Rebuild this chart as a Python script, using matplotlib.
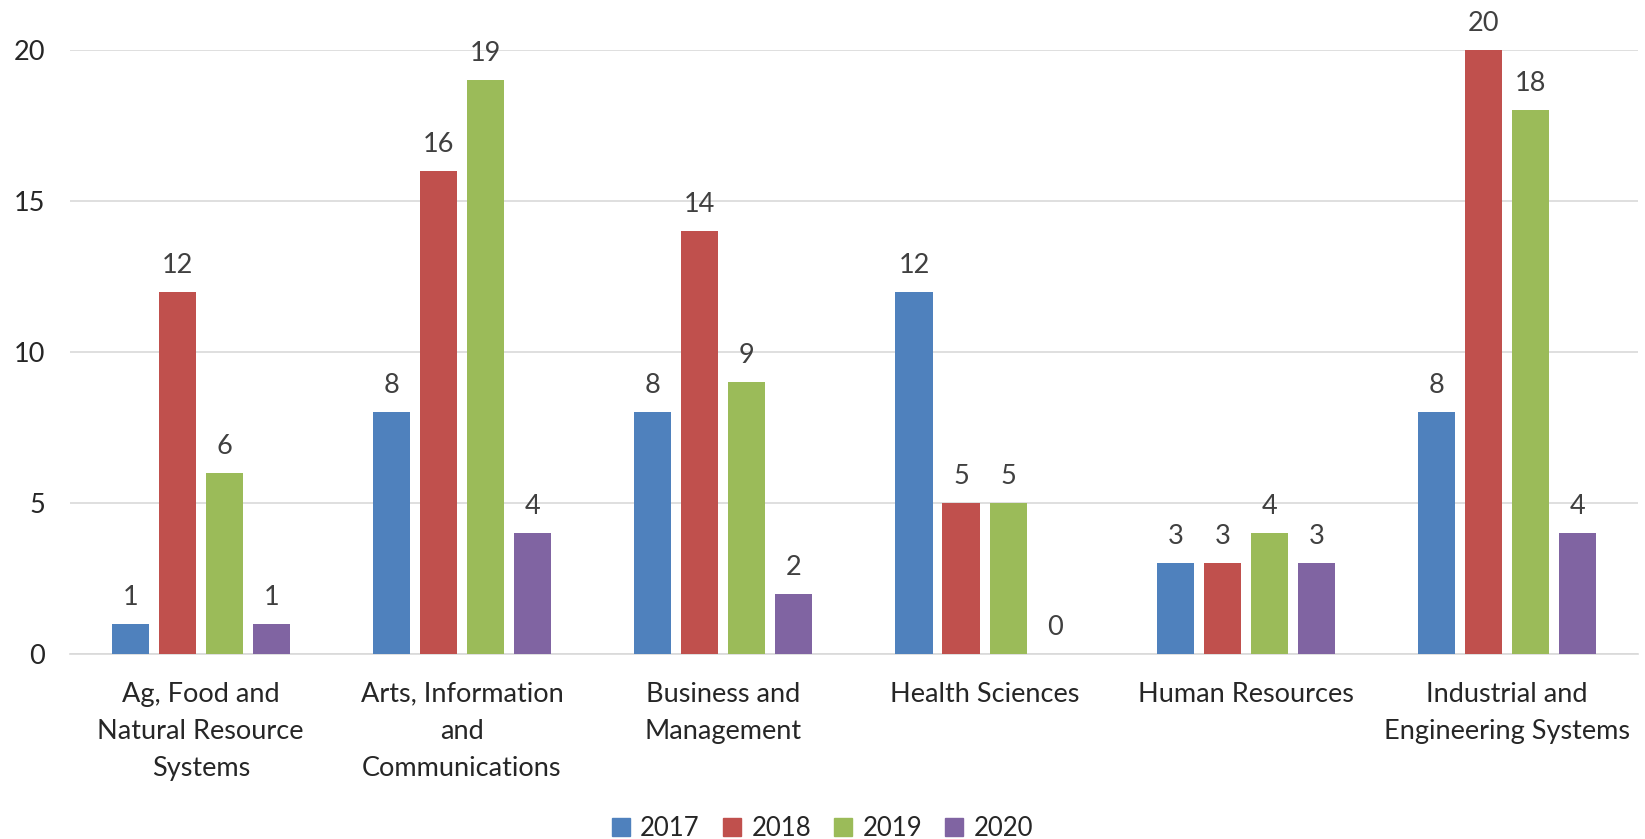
import matplotlib.pyplot as plt
import matplotlib.patches as mpatches
import numpy as np

categories = ['Ag, Food and\nNatural Resource\nSystems',
              'Arts, Information\nand\nCommunications',
              'Business and\nManagement',
              'Health Sciences',
              'Human Resources',
              'Industrial and\nEngineering Systems']
years = ['2017', '2018', '2019', '2020']
v2017 = [1, 8, 8, 12, 3, 8]
v2018 = [12, 16, 14, 5, 3, 20]
v2019 = [6, 19, 9, 5, 4, 18]
v2020 = [1, 4, 2, 0, 3, 4]
colors = ['#4F81BD', '#C0504D', '#9BBB59', '#8064A2']

plt.rcParams['font.family'] = ['Lato', 'DejaVu Sans']

fig = plt.figure(figsize=(16.45, 8.39), dpi=100)
ax = fig.add_axes([0.0426, 0.2205, 0.953, 0.72])

x = np.arange(len(categories))
step = 0.18
width = 0.142
series = [v2017, v2018, v2019, v2020]
for i, vals in enumerate(series):
    pos = x + (i - 1.5) * step
    bars = ax.bar(pos, vals, width, color=colors[i], label=years[i], zorder=3)
    for b, v in zip(bars, vals):
        ax.annotate(str(v), (b.get_x() + b.get_width() / 2, v),
                    xytext=(0, 10), textcoords='offset points',
                    ha='center', va='bottom', fontsize=19.5, color='#404040')

ax.set_xlim(-0.5, len(categories) - 0.5)
ax.set_ylim(0, 20)
ax.set_yticks([0, 5, 10, 15, 20])
ax.grid(axis='y', color='#d9d9d9', linewidth=1.2, zorder=0)
for s in ['top', 'right', 'left']:
    ax.spines[s].set_visible(False)
ax.spines['bottom'].set_color('#d9d9d9')
ax.spines['bottom'].set_linewidth(1.2)
ax.tick_params(axis='both', length=0, labelsize=19.5, colors='#262626')
ax.tick_params(axis='y', pad=18)
ax.tick_params(axis='x', pad=20)
ax.set_xticks(x)
ax.set_xticklabels(categories, linespacing=1.6)

handles = [mpatches.Patch(color=c, label=y) for c, y in zip(colors, years)]
fig.legend(handles=handles, loc='center', bbox_to_anchor=(0.5, 0.012), ncol=4,
           frameon=False, fontsize=18.5, handlelength=0.7, handleheight=0.7,
           handletextpad=0.4, columnspacing=0.9, labelcolor='#262626')

fig.savefig('out.png', dpi=100)
